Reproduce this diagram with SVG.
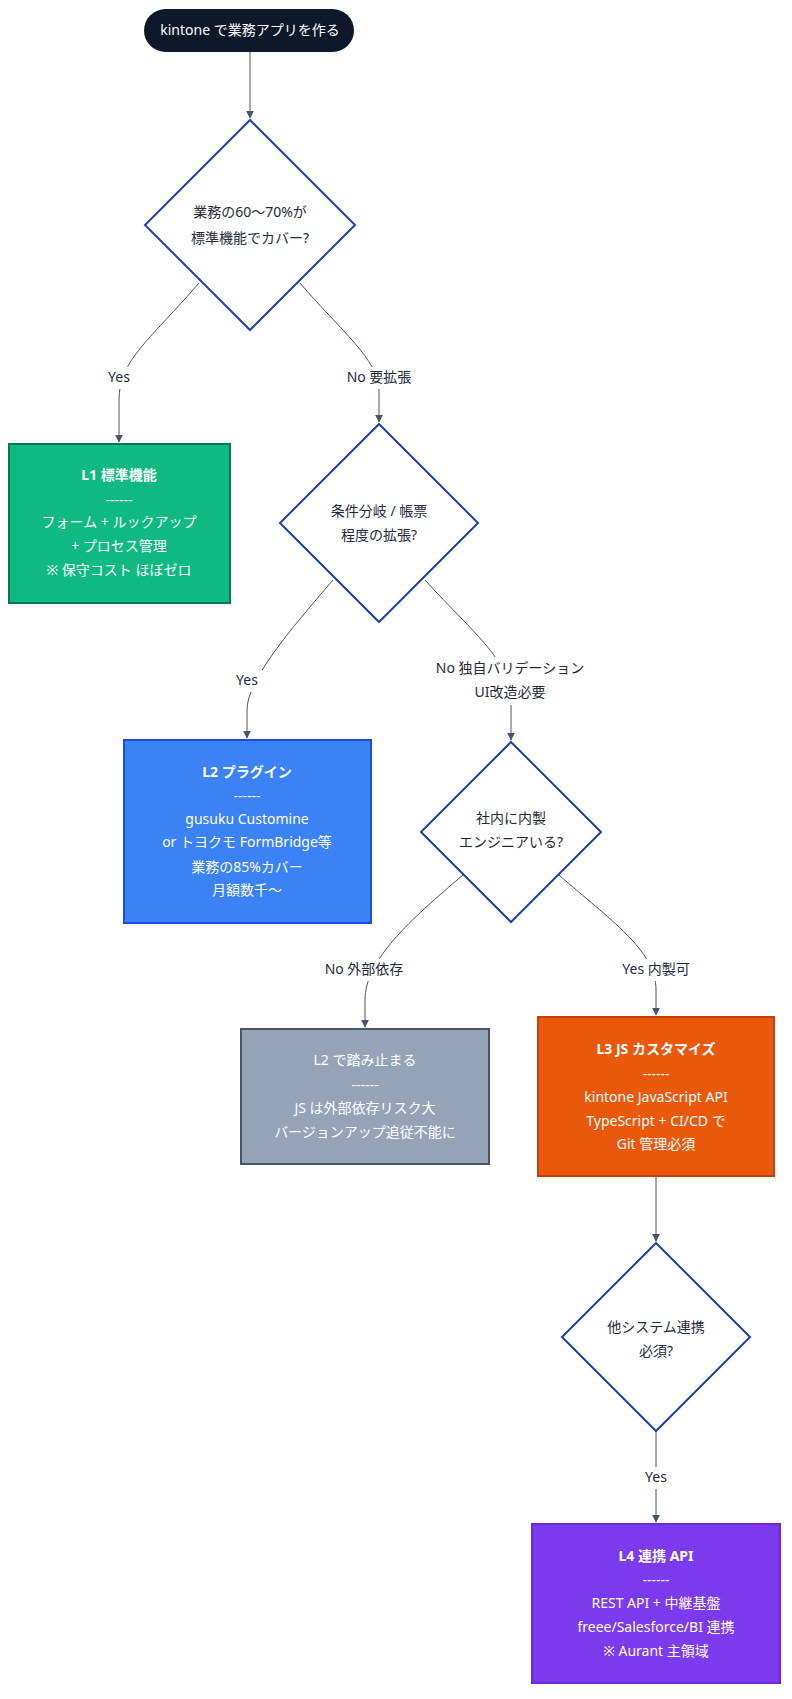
<svg xmlns="http://www.w3.org/2000/svg" width="792" height="1699" viewBox="0 0 792 1699">
<defs>
<marker id="ah" viewBox="0 0 10 10" refX="9" refY="5" markerWidth="8" markerHeight="8" orient="auto"><path d="M0,0 L10,5 L0,10 z" fill="#475569"/></marker>
<style>
text{font-family:"Noto Sans","Noto Sans CJK JP",sans-serif;font-size:14px;text-anchor:middle;dominant-baseline:middle}
.w{fill:#fff}.d{fill:#1e293b}.b{font-weight:bold}
.dia{fill:#fff;stroke:#1e40af;stroke-width:2}
.e{fill:none;stroke:#475569;stroke-width:1;marker-end:url(#ah)}
.lb{fill:#fff}
</style>
</defs>
<g id="connectors">
<path class="e" d="M250,52 L250,118"/>
<path class="e" d="M199,283 C150,340 119,360 119,400 L119,442"/>
<path class="e" d="M300,283 C340,330 379,360 379,390 L379,422"/>
<path class="e" d="M333,580 C290,630 247,680 247,710 L247,738"/>
<path class="e" d="M425,580 C470,630 511,660 511,700 L511,740"/>
<path class="e" d="M463,875 C410,920 365,960 365,1000 L365,1027"/>
<path class="e" d="M559,875 C610,920 656,950 656,990 L656,1015"/>
<path class="e" d="M656,1176 L656,1241"/>
<path class="e" d="M656,1431 L656,1522"/>
<rect class="lb" x="103" y="367" width="32" height="22"/><text class="d" x="119" y="378">Yes</text>
<rect class="lb" x="339" y="367" width="80" height="22"/><text class="d" x="379" y="378">No 要拡張</text>
<rect class="lb" x="231" y="670" width="32" height="22"/><text class="d" x="247" y="681">Yes</text>
<rect class="lb" x="440" y="657" width="140" height="48"/><text class="d" x="510" y="669">No 独自バリデーション</text><text class="d" x="510" y="693">UI改造必要</text>
<rect class="lb" x="318" y="959" width="92" height="22"/><text class="d" x="364" y="970">No 外部依存</text>
<rect class="lb" x="612" y="959" width="88" height="22"/><text class="d" x="656" y="970">Yes 内製可</text>
<rect class="lb" x="640" y="1467" width="32" height="22"/><text class="d" x="656" y="1478">Yes</text>
</g>
<g id="start">
<rect x="144" y="9" width="210" height="43" rx="21.5" fill="#0f172a"/>
<text class="w" x="250" y="31">kintone で業務アプリを作る</text>
</g>
<g id="d1">
<polygon class="dia" points="250,120 355,225 250,330 145,225"/>
<text class="d" x="250" y="213">業務の60〜70%が</text><text class="d" x="250" y="239">標準機能でカバー?</text>
</g>
<g id="l1">
<rect x="9" y="444" width="221" height="159" fill="#10b981" stroke="#047857" stroke-width="2"/>
<text class="w b" x="119" y="476">L1 標準機能</text><text class="w" x="119" y="501">------</text><text class="w" x="119" y="523">フォーム + ルックアップ</text><text class="w" x="119" y="547">+ プロセス管理</text><text class="w" x="119" y="571">※ 保守コスト ほぼゼロ</text>
</g>
<g id="d2">
<polygon class="dia" points="379,424 478,523 379,622 280,523"/>
<text class="d" x="379" y="512">条件分岐 / 帳票</text><text class="d" x="379" y="536">程度の拡張?</text>
</g>
<g id="l2">
<rect x="124" y="740" width="247" height="183" fill="#3b82f6" stroke="#1d4ed8" stroke-width="2"/>
<text class="w b" x="247" y="773">L2 プラグイン</text><text class="w" x="247" y="797">------</text><text class="w" x="247" y="820">gusuku Customine</text><text class="w" x="247" y="843">or トヨクモ FormBridge等</text><text class="w" x="247" y="868">業務の85%カバー</text><text class="w" x="247" y="891">月額数千〜</text>
</g>
<g id="d3">
<polygon class="dia" points="511,742 601,832 511,922 421,832"/>
<text class="d" x="511" y="819">社内に内製</text><text class="d" x="511" y="843">エンジニアいる?</text>
</g>
<g id="stop">
<rect x="241" y="1029" width="248" height="135" fill="#94a3b8" stroke="#475569" stroke-width="2"/>
<text class="w" x="365" y="1061">L2 で踏み止まる</text><text class="w" x="365" y="1086">------</text><text class="w" x="365" y="1109">JS は外部依存リスク大</text><text class="w" x="365" y="1133">バージョンアップ追従不能に</text>
</g>
<g id="l3">
<rect x="538" y="1017" width="236" height="159" fill="#ea580c" stroke="#c2410c" stroke-width="2"/>
<text class="w b" x="656" y="1050">L3 JS カスタマイズ</text><text class="w" x="656" y="1075">------</text><text class="w" x="656" y="1098">kintone JavaScript API</text><text class="w" x="656" y="1122">TypeScript + CI/CD で</text><text class="w" x="656" y="1145">Git 管理必須</text>
</g>
<g id="d4">
<polygon class="dia" points="656,1243 750,1337 656,1431 562,1337"/>
<text class="d" x="656" y="1328">他システム連携</text><text class="d" x="656" y="1352">必須?</text>
</g>
<g id="l4">
<rect x="532" y="1524" width="248" height="159" fill="#7c3aed" stroke="#6d28d9" stroke-width="2"/>
<text class="w b" x="656" y="1557">L4 連携 API</text><text class="w" x="656" y="1581">------</text><text class="w" x="656" y="1604">REST API + 中継基盤</text><text class="w" x="656" y="1628">freee/Salesforce/BI 連携</text><text class="w" x="656" y="1652">※ Aurant 主領域</text>
</g>
</svg>
